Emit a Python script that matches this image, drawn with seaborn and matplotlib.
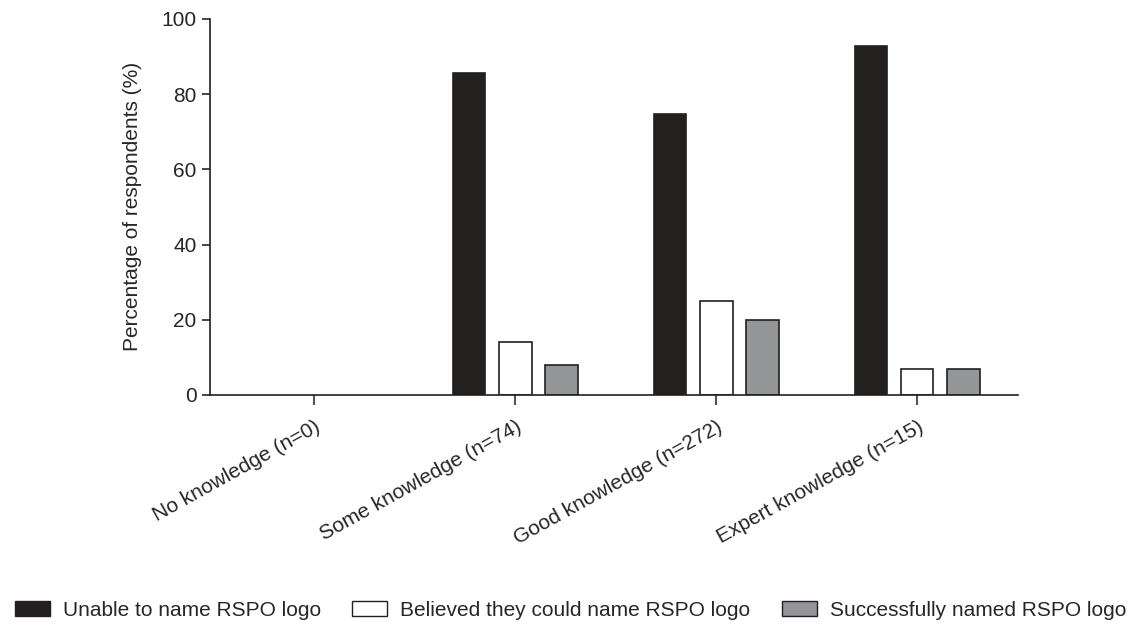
import numpy as np
import pandas as pd
import matplotlib
matplotlib.use("Agg")
import matplotlib.pyplot as plt
import seaborn as sns
from matplotlib.patches import Patch

categories = ["No knowledge (n=0)", "Some knowledge (n=74)",
              "Good knowledge (n=272)", "Expert knowledge (n=15)"]
series = ["Unable to name RSPO logo", "Believed they could name RSPO logo",
          "Successfully named RSPO logo"]
unable = [0, 85.6, 74.8, 92.8]
believed = [0, 14.1, 25.0, 7.0]
named = [0, 8.1, 20.0, 7.0]

colors = ["#231f20", "#ffffff", "#939598"]

df = pd.DataFrame({
    "category": categories * 3,
    "group": [s for s in series for _ in categories],
    "value": unable + believed + named,
})

sns.set_style("ticks")
plt.rcParams["font.family"] = ["Liberation Sans", "DejaVu Sans"]

fig = plt.figure(figsize=(11.41, 6.25), dpi=100)
ax = fig.add_axes([0.184, 0.368, 0.708, 0.602])

sns.barplot(data=df, x="category", y="value", hue="group", order=categories,
            hue_order=series, palette=colors, width=0.69, gap=0.3,
            edgecolor="#231f20", linewidth=1.2, ax=ax, legend=False)

# empty bars leave no outline
for p in ax.patches:
    if p.get_height() == 0:
        p.set_linewidth(0)

ax.set_xlim(-0.52, 3.5)
ax.set_ylim(0, 100)
ax.set_yticks([0, 20, 40, 60, 80, 100])
ax.set_xlabel("")
ax.set_ylabel("Percentage of respondents (%)", fontsize=15, labelpad=14)
ax.tick_params(axis="y", labelsize=15, length=6, width=1.2)
ax.tick_params(axis="x", labelsize=15, length=7, width=1.5, color="#555555", pad=9)
plt.setp(ax.get_xticklabels(), rotation=29, ha="right", rotation_mode="anchor")
sns.despine(ax=ax)
for sp in ["left", "bottom"]:
    ax.spines[sp].set_linewidth(1.2)
    ax.spines[sp].set_color("#231f20")

handles = [Patch(facecolor=c, edgecolor="#231f20", linewidth=1) for c in colors]
fig.legend(handles, series, loc="center", bbox_to_anchor=(0.5, 0.024),
           ncol=3, frameon=False, fontsize=15, handlelength=1.68,
           handleheight=0.72, columnspacing=1.5, handletextpad=0.62,
           borderpad=0, borderaxespad=0)

fig.savefig("out.png", dpi=100)
